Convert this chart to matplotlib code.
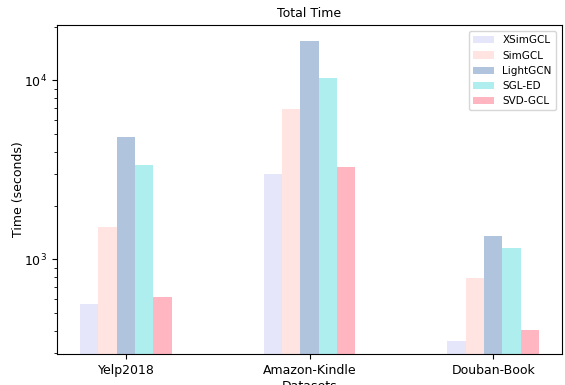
import matplotlib
matplotlib.use('Agg')
import matplotlib.pyplot as plt
import numpy as np

datasets = ['Yelp2018', 'Amazon-Kindle', 'Douban-Book']
methods = ['XSimGCL', 'SimGCL', 'LightGCN', 'SGL-ED', 'SVD-GCL']
times = {
    'XSimGCL': [562, 3006, 352],
    'SimGCL': [1515, 6935, 787],
    'LightGCN': [4820, 16650, 1350],
    'SGL-ED': [3350, 10300, 1161],
    'SVD-GCL': [616, 3266, 404],
}
colors = ['lavender', 'mistyrose', 'lightsteelblue', 'paleturquoise', 'lightpink']

fig, ax = plt.subplots(figsize=(5.65, 3.85), dpi=100)
fig.subplots_adjust(left=0.101, right=0.9947, top=0.935, bottom=0.0805)

x = np.arange(len(datasets))
width = 0.1
for i, (m, c) in enumerate(zip(methods, colors)):
    ax.bar(x + (i - 2) * width, times[m], width, label=m, color=c)

ax.set_yscale('log')
ax.set_ylim(296, 20400)
ax.set_xticks(x)
ax.set_xticklabels(datasets)
ax.tick_params(labelsize=9)
ax.set_xlabel('Datasets', fontsize=9, labelpad=2)
ax.set_ylabel('Time (seconds)', fontsize=9)
ax.yaxis.set_label_coords(-0.064, 0.5)
ax.set_title('Total Time', fontsize=9)
ax.legend(loc='upper right', fontsize=7.5, borderaxespad=0.6)

plt.savefig('out.png', dpi=100)
plt.close()
